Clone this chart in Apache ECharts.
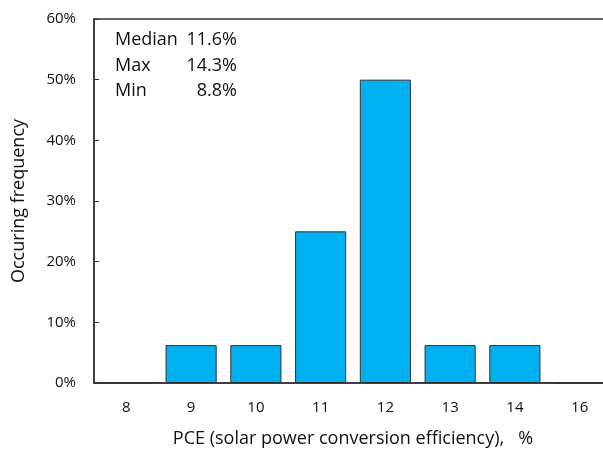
<!DOCTYPE html>
<html><head><meta charset="utf-8">
<script src="https://cdn.jsdelivr.net/npm/echarts@6/dist/echarts.min.js"></script>
<style>html,body{margin:0;padding:0;background:#fff;overflow:hidden}#c{width:603px;height:449px}</style>
</head><body><div id="c"></div>
<script>
var categories = ['8','9','10','11','12','13','14','16'];
var frequency = [0, 6.25, 6.25, 25, 50, 6.25, 6.25, 0];
var yTicks = [0, 10, 20, 30, 40, 50, 60];
var statLabels = ['Median', 'Max', 'Min'];
var statValues = ['11.6%', '14.3%', '8.8%'];

var FONT = '"Open Sans", sans-serif';
var chart = echarts.init(document.getElementById('c'), null, {renderer: 'canvas'});
var graphics = [];
statLabels.forEach(function (l, i) {
  graphics.push({type: 'text', left: 115, top: 31 + i * 25.5,
    style: {text: l, font: '18px ' + FONT, fill: '#111'}});
  graphics.push({type: 'text', right: 366, top: 31 + i * 25.5,
    style: {text: statValues[i], font: '18px ' + FONT, fill: '#111', textAlign: 'right'}});
});
chart.setOption({
  animation: false,
  grid: {left: 94, top: 19, width: 518, height: 364, outerBoundsMode: 'none', containLabel: false,
    show: true, borderColor: '#333', borderWidth: 1.5, backgroundColor: 'transparent'},
  xAxis: {
    type: 'category', data: categories,
    name: 'PCE (solar power conversion efficiency),   %', nameLocation: 'middle', nameGap: 47,
    nameTextStyle: {fontFamily: FONT, fontSize: 18, color: '#111'},
    axisLine: {lineStyle: {color: '#333', width: 1.5}},
    axisTick: {inside: true, length: 4, lineStyle: {color: '#333'}},
    axisLabel: {fontFamily: FONT, fontSize: 15, color: '#111', margin: 17}
  },
  yAxis: {
    type: 'value', min: 0, max: 60, interval: 10,
    name: 'Occuring frequency', nameLocation: 'middle', nameGap: 66,
    nameTextStyle: {fontFamily: FONT, fontSize: 18, color: '#111'},
    axisLine: {show: true, lineStyle: {color: '#333', width: 1.5}},
    axisTick: {show: true, inside: true, length: 5, lineStyle: {color: '#333'}},
    splitLine: {show: false},
    axisLabel: {fontFamily: FONT, fontSize: 15, color: '#111', margin: 18, formatter: '{value}%'}
  },
  series: [{
    type: 'bar', data: frequency, barCategoryGap: '21%',
    itemStyle: {color: '#00B0F0', borderColor: '#333', borderWidth: 1}
  }],
  graphic: graphics
});
</script></body></html>
